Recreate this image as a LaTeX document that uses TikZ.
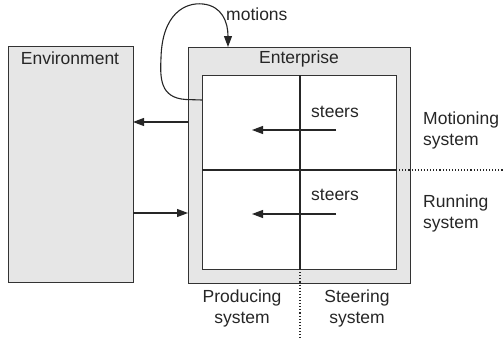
\documentclass[tikz,border=0pt]{standalone}
\usepackage{fontspec}
\setmainfont{Liberation Sans}
\usetikzlibrary{arrows.meta,calc}
\definecolor{frame}{HTML}{333333}
\definecolor{shade}{HTML}{E6E6E6}
\tikzset{
  box/.style={draw=frame, line width=1.3pt, fill=shade, anchor=north west, inner sep=0pt},
  panel/.style={draw=frame, line width=1.3pt, fill=white, anchor=north west, inner sep=0pt},
  txt/.style={font=\fontsize{17.5}{21}\selectfont, text=black!85, inner sep=0pt, align=center},
  flow/.style={draw=black!85, line width=1.1pt, -{Triangle[length=11pt,width=8pt]}},
  divider/.style={draw=black!85, line width=1.1pt},
  border/.style={draw=black!85, line width=1.1pt, dotted}
}
\begin{document}
\begin{tikzpicture}[x=1pt,y=-1pt]
\useasboundingbox (0,0) rectangle (504,338);

% environment and enterprise frames
\node[box, minimum width=125pt, minimum height=236pt] (env) at (8,46) {};
\node[box, minimum width=222pt, minimum height=236pt] (ent) at (188,47) {};
\node[panel, minimum width=194pt, minimum height=194pt] (core) at (202,75) {};

% quadrant dividers
\coordinate (midtop) at (300,75);
\coordinate (midbot) at (300,269);
\coordinate (midleft) at (202,170);
\coordinate (midright) at (396,170);
\draw[divider] (midtop) -- (midbot);
\draw[divider] (midleft) -- (midright);

% dotted system borders
\coordinate (downend) at (300,338);
\coordinate (rightend) at (504,170);
\draw[border] (midbot) -- (downend);
\draw[border] (midright) -- (rightend);

% titles
\node[txt] (envlabel) at (70,58) {Environment};
\node[txt] (entlabel) at (299,59) {Enterprise};

% exchange with the environment
\coordinate (outA) at (188,122);
\coordinate (inA) at (133,122);
\coordinate (outB) at (133,213);
\coordinate (inB) at (188,213);
\draw[flow] (outA) -- (inA);
\draw[flow] (outB) -- (inB);

% self-motioning loop
\coordinate (loopstart) at (202,100);
\coordinate (loopend) at (228,47);
\draw[flow] (loopstart) -- (186,99.5)
  .. controls (160,98) and (160,78) .. (161,58)
  .. controls (162,14) and (185,2) .. (203,4)
  .. controls (222,6) and (228,22) .. (loopend);
\node[txt, anchor=west] (motions) at (226,14) {motions};

% steering arrows
\coordinate (s1a) at (336,130);
\coordinate (s1b) at (252,130);
\coordinate (s2a) at (336,214);
\coordinate (s2b) at (252,214);
\draw[flow] (s1a) -- (s1b);
\draw[flow] (s2a) -- (s2b);
\node[txt] (steersA) at (335,112) {steers};
\node[txt] (steersB) at (335,195) {steers};

% subsystem names
\node[txt, anchor=west, align=left] (motioning) at (423,130) {Motioning\\system};
\node[txt, anchor=west, align=left] (running) at (423,213) {Running\\system};
\node[txt] (producing) at (242,308) {Producing\\system};
\node[txt] (steering) at (357,308) {Steering\\system};
\end{tikzpicture}
\end{document}
